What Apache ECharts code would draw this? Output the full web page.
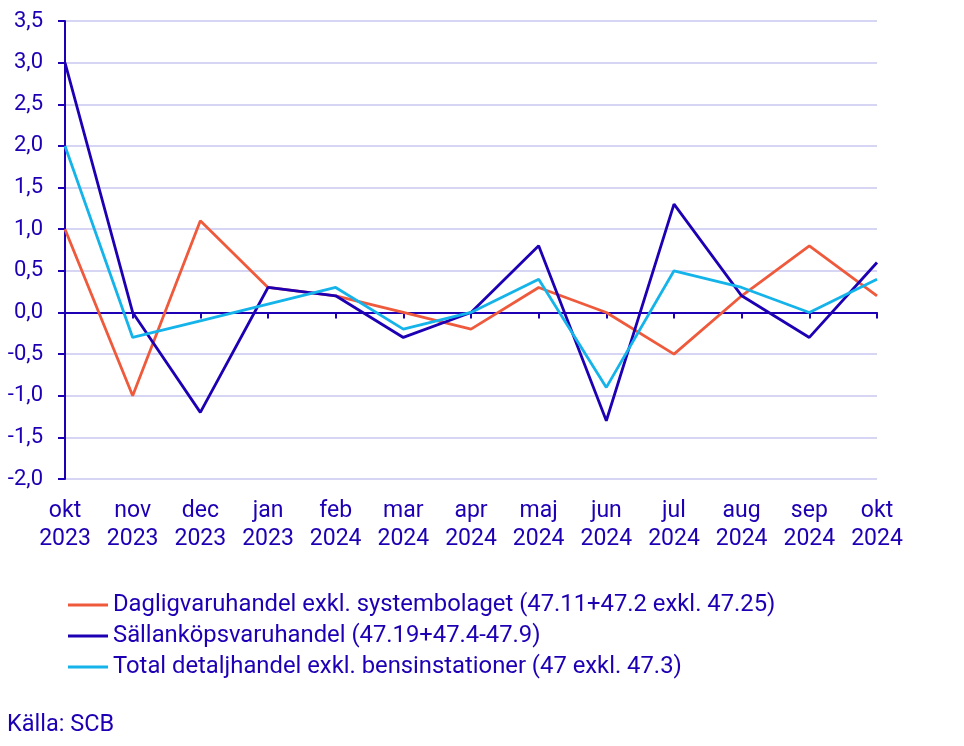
<!DOCTYPE html>
<html><head><meta charset="utf-8">
<script src="https://cdn.jsdelivr.net/npm/echarts@6/dist/echarts.min.js"></script>
<style>html,body{margin:0;padding:0;background:#fff}#c{width:964px;height:746px}</style>
</head><body><div id="c"></div>
<script>
const categories = ['okt\n2023','nov\n2023','dec\n2023','jan\n2023','feb\n2024','mar\n2024','apr\n2024','maj\n2024','jun\n2024','jul\n2024','aug\n2024','sep\n2024','okt\n2024'];
const dagligvaru = [1.0,-1.0,1.1,0.3,0.2,0.0,-0.2,0.3,0.0,-0.5,0.2,0.8,0.2];
const sallankop = [3.0,0.0,-1.2,0.3,0.2,-0.3,0.0,0.8,-1.3,1.3,0.2,-0.3,0.6];
const total = [2.0,-0.3,-0.1,0.1,0.3,-0.2,0.0,0.4,-0.9,0.5,0.3,0.0,0.4];
const names = ['Dagligvaruhandel exkl. systembolaget (47.11+47.2 exkl. 47.25)','Sällanköpsvaruhandel (47.19+47.4-47.9)','Total detaljhandel exkl. bensinstationer (47 exkl. 47.3)'];
const source = 'Källa: SCB';

const txt = '#1e00b4';
const font = 'Roboto';
const chart = echarts.init(document.getElementById('c'), null, {renderer:'canvas'});
function mk(name, data, color){
  return {name, type:'line', data, xAxisIndex:0, symbol:'none', lineStyle:{color, width:2.8}, itemStyle:{color}, animation:false};
}
chart.setOption({
  animation:false,
  textStyle:{fontFamily:font},
  grid:{left:65, right:87, top:21, bottom:267, containLabel:false},
  xAxis:[
    {type:'category', data:categories, boundaryGap:false, position:'bottom',
     axisLine:{show:false, onZero:false}, axisTick:{show:false}, splitLine:{show:false},
     axisLabel:{color:txt, fontSize:23, lineHeight:28, margin:18, fontFamily:font, interval:0}},
    {type:'category', data:categories, boundaryGap:false, position:'bottom',
     axisLine:{show:true, onZero:true, lineStyle:{color:txt, width:2}},
     axisTick:{show:true, length:6, interval:0, lineStyle:{color:txt, width:2}},
     axisLabel:{show:false}, splitLine:{show:false}}
  ],
  yAxis:{type:'value', min:-2, max:3.5, interval:0.5,
    axisLine:{show:true, lineStyle:{color:txt, width:2}},
    axisTick:{show:true, length:7, lineStyle:{color:txt, width:2}},
    splitLine:{show:true, lineStyle:{color:'#c8c8f0', width:1.5}},
    axisLabel:{color:txt, fontSize:22, margin:22, fontFamily:font, formatter:v=>v.toFixed(1).replace('.',',')}},
  legend:{orient:'vertical', left:68, top:593, padding:0, itemWidth:40, itemHeight:3, itemGap:7, icon:'rect',
    textStyle:{color:txt, fontSize:23.8, lineHeight:24, fontFamily:font},
    data:names},
  graphic:[{type:'text', left:7, top:713, style:{text:source, fill:txt, fontSize:23.5, fontFamily:font}}],
  series:[mk(names[0], dagligvaru, '#f05a3c'), mk(names[1], sallankop, '#1e00b4'), mk(names[2], total, '#14b4eb')]
});
</script></body></html>
